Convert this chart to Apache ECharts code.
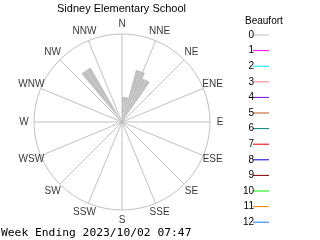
<!DOCTYPE html>
<html><head><meta charset="utf-8">
<script src="https://cdn.jsdelivr.net/npm/echarts@6/dist/echarts.min.js"></script>
<style>html,body{margin:0;padding:0;background:#fff}#c{width:320px;height:240px}</style>
</head><body><div id="c"></div>
<script>
const titleText = 'Sidney Elementary School';
const footerText = 'Week Ending 2023/10/02 07:47';
const legendTitle = 'Beaufort';
const compassLabels = ['N','NNE','NE','ENE','E','ESE','SE','SSE','S','SSW','SW','WSW','W','WNW','NW','NNW'];
const beaufortLevels = ['0','1','2','3','4','5','6','7','8','9','10','11','12'];
const beaufortColors = ['#c0c0c0','#ff00ff','#00f0f0','#f08080','#7010e0','#b05818','#008070','#e00000','#0000d0','#800000','#00f000','#ff8000','#1878f0'];
// Beaufort 0 frequency (%) by 5-degree direction bin (start angle, degrees from north)
const binStarts = [0, 5, 10, 15, 20, 25, 30, 320, 325];
const beaufort0Freq = [5.7, 5.7, 5.7, 12.3, 12.3, 11.0, 11.0, 14.3, 14.3];
const binSize = 5;
const maxFreq = 20;
const labelRadius = 22.3;

const cats = [];
for (let a = 0; a < 360; a += binSize) cats.push(String(a));
function binned(starts, vals) {
  const arr = cats.map(() => 0);
  starts.forEach((s, i) => { arr[s / binSize] = vals[i]; });
  return arr;
}
const series = beaufortLevels.map((lvl, i) => ({
  name: lvl,
  type: 'bar',
  coordinateSystem: 'polar',
  polarIndex: 1,
  stack: 'wind',
  barCategoryGap: '0%',
  itemStyle: { color: beaufortColors[i] },
  data: i === 0 ? binned(binStarts, beaufort0Freq) : []
}));
const font = 'Liberation Sans, Arial, sans-serif';
series.push({
  name: 'compass',
  type: 'scatter',
  coordinateSystem: 'polar',
  polarIndex: 0,
  clip: false,
  silent: true,
  symbolSize: 1,
  itemStyle: { color: 'rgba(0,0,0,0)' },
  label: { show: true, position: 'inside', formatter: '{b}', color: '#000', fontSize: 10, fontFamily: font },
  data: compassLabels.map((n, i) => ({ name: n, value: [labelRadius, i * 22.5] }))
});
const chart = echarts.init(document.getElementById('c'), null, { renderer: 'canvas' });
chart.setOption({
  animation: false,
  title: [
    { text: titleText, left: 52, top: -2, textStyle: { fontSize: 11, fontWeight: 'normal', color: '#000', fontFamily: font } },
    { text: footerText, left: -4, top: 222.5, textStyle: { fontSize: 11.3, fontWeight: 'normal', color: '#000', fontFamily: 'DejaVu Sans Mono, monospace' } },
    { text: legendTitle, left: 240, top: 11, textStyle: { fontSize: 10, fontWeight: 'normal', color: '#000', fontFamily: font } }
  ],
  polar: [
    { center: [122, 122], radius: 88 },
    { center: [122, 122], radius: 88 }
  ],
  angleAxis: [
    { polarIndex: 0, type: 'value', min: 0, max: 360, interval: 22.5, startAngle: 90, clockwise: true,
      axisLine: { lineStyle: { color: '#c0c0c0', width: 1 } },
      axisTick: { show: false },
      splitLine: { show: true, lineStyle: { color: '#c0c0c0', width: 1 } },
      axisLabel: { show: false } },
    { polarIndex: 1, type: 'category', data: cats, startAngle: 90, clockwise: true,
      axisLine: { show: false }, axisTick: { show: false }, axisLabel: { show: false }, splitLine: { show: false } }
  ],
  radiusAxis: [
    { polarIndex: 0, type: 'value', min: 0, max: maxFreq, axisLine: { show: false }, axisTick: { show: false }, axisLabel: { show: false }, splitLine: { show: false } },
    { polarIndex: 1, type: 'value', min: 0, max: maxFreq, axisLine: { show: false }, axisTick: { show: false }, axisLabel: { show: false }, splitLine: { show: false } }
  ],
  legend: {
    orient: 'vertical', right: 51, top: 29, align: 'right', padding: 0,
    icon: 'rect', itemWidth: 16, itemHeight: 1, itemGap: 3.6,
    textStyle: { fontSize: 10, lineHeight: 12, color: '#000', fontFamily: font, padding: [0, -6, 0, 0] },
    data: beaufortLevels, selectedMode: false
  },
  series: series
});
</script></body></html>
